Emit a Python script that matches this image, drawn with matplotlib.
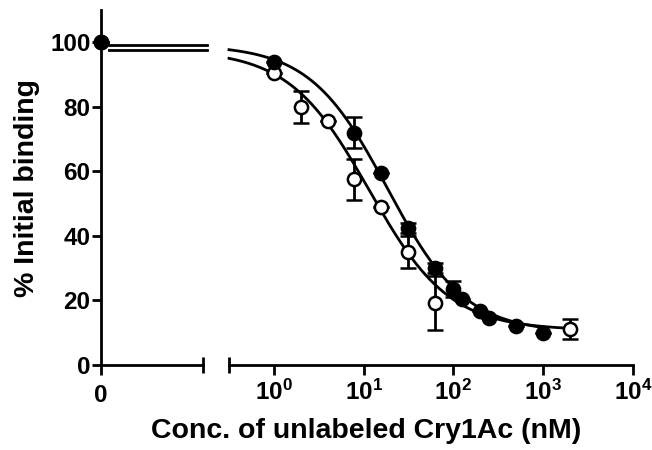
import numpy as np
import matplotlib
matplotlib.use("Agg")
import matplotlib.pyplot as plt

plt.rcParams["font.family"] = "Liberation Sans"
plt.rcParams["font.weight"] = "bold"
plt.rcParams["mathtext.fontset"] = "custom"
plt.rcParams["mathtext.rm"] = "Liberation Sans:bold"
plt.rcParams["mathtext.bf"] = "Liberation Sans:bold"

# zero-concentration controls
zero_filled = 100
zero_open = 100

# filled circles
filled_conc = [1, 7.8, 15.6, 31.25, 62.5, 100, 125, 200, 250, 500, 1000]
filled_pct = [94, 72, 59.6, 42.5, 30, 23.5, 20.5, 16.8, 14.6, 12, 9.8]
filled_err = [0, 4.7, 0, 1.5, 1.5, 2.5, 0, 0, 0, 0, 0]

# open circles
open_conc = [1, 2, 4, 7.8, 15.6, 31.25, 62.5, 2000]
open_pct = [90.4, 80, 75.5, 57.5, 49, 35, 19.2, 11.2]
open_err = [0, 5, 0, 6.3, 0, 5, 8.5, 3]

# fitted one-site competition curves: top, bottom, IC50, hill slope
filled_fit = (99.2, 10.0, 18.5, 1.0)
open_fit = (97.6, 10.8, 11.5, 0.97)

y_ticks = [0, 20, 40, 60, 80, 100]
x_decades = [0, 1, 2, 3, 4]


def curve(x, top, bottom, ic50, hill):
    return bottom + (top - bottom) / (1 + (x / ic50) ** hill)


W, H = 652, 450
fig = plt.figure(figsize=(W / 100, H / 100), dpi=100, facecolor="white")
ax0 = fig.add_axes([101 / W, 1 - 365 / H, 102 / W, 355 / H])
ax1 = fig.add_axes([229 / W, 1 - 365 / H, 404 / W, 355 / H])

LW = 2.0
mk = dict(fmt="o", ms=9.5, mec="black", mew=1.8, ecolor="black",
          elinewidth=LW, capsize=6, capthick=LW, clip_on=False)

for ax in (ax0, ax1):
    ax.set_ylim(0, 110)
    for s in ("top", "right"):
        ax.spines[s].set_visible(False)
    for s in ("left", "bottom"):
        ax.spines[s].set_linewidth(LW)
    ax.tick_params(width=LW, length=7.5, labelsize=17.5, direction="out")

# left segment (zero concentration)
ax0.set_xlim(0, 1)
ax0.set_xticks([0])
ax0.set_xticklabels(["0"])
ax0.set_yticks(y_ticks)
ax0.tick_params(axis="y", pad=1, length=6.5)
ax0.tick_params(axis="x", pad=6)
ax0.plot([0.08, 1.04], [open_fit[0]] * 2, color="black", lw=LW, clip_on=False)
ax0.plot([0.08, 1.04], [filled_fit[0]] * 2, color="black", lw=LW, clip_on=False)
ax0.errorbar([0], [zero_open], yerr=[0], mfc="white", zorder=4, **mk)
ax0.errorbar([0], [zero_filled], yerr=[0], mfc="black", zorder=5, **mk)
ax0.plot([1], [0], marker="|", ms=11, mew=LW, color="black", clip_on=False,
         transform=ax0.transAxes)

# right segment (log concentration)
ax1.set_xscale("log")
ax1.set_xlim(10 ** -0.5, 10 ** 4)
ax1.spines["left"].set_visible(False)
ax1.set_yticks([])
ax1.set_xticks([10.0 ** d for d in x_decades])
ax1.set_xticklabels([r"$\mathbf{10^{%d}}$" % d for d in x_decades])
ax1.xaxis.set_minor_locator(matplotlib.ticker.NullLocator())
ax1.tick_params(axis="x", pad=3)
ax1.plot([0], [0], marker="|", ms=11, mew=LW, color="black", clip_on=False,
         transform=ax1.transAxes)

xs_f = np.logspace(-0.5, np.log10(max(filled_conc)), 300)
xs_o = np.logspace(-0.5, np.log10(max(open_conc)), 300)
ax1.plot(xs_o, curve(xs_o, *open_fit), color="black", lw=LW, clip_on=False)
ax1.plot(xs_f, curve(xs_f, *filled_fit), color="black", lw=LW, clip_on=False)
ax1.errorbar(open_conc, open_pct, yerr=open_err, mfc="white", zorder=4, **mk)
ax1.errorbar(filled_conc, filled_pct, yerr=filled_err, mfc="black", zorder=5, **mk)

fig.text(27 / W, 1 - 188 / H, "% Initial binding", rotation=90,
         ha="center", va="center", fontsize=20.5, fontweight="bold")
fig.text(366 / W, 1 - 431 / H, "Conc. of unlabeled Cry1Ac (nM)",
         ha="center", va="center", fontsize=20.5, fontweight="bold")

fig.savefig("out.png", dpi=100, facecolor="white")
